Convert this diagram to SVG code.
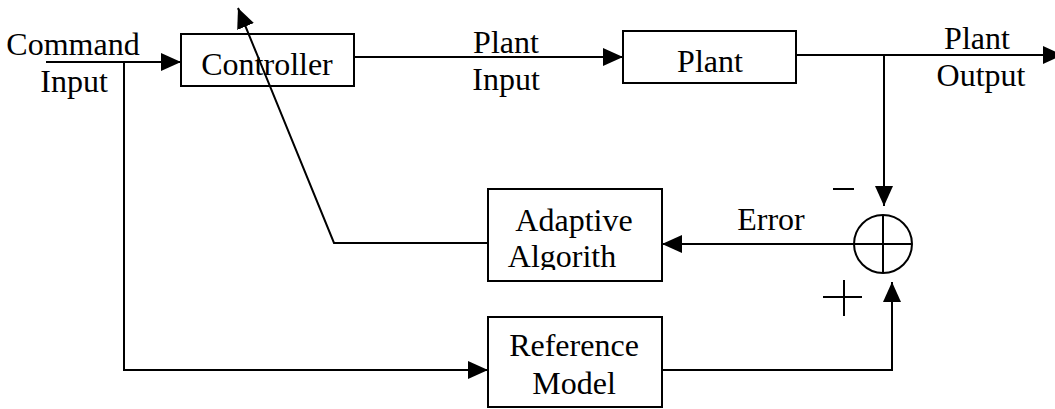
<svg xmlns="http://www.w3.org/2000/svg" width="1055" height="409" viewBox="0 0 1055 409">
<style>
.box{fill:none;stroke:#000;stroke-width:2}
.ln{fill:none;stroke:#000;stroke-width:2}
text{font-family:"Liberation Serif","Times New Roman",serif;font-size:32px;fill:#000;text-anchor:middle}
</style>
<defs>
<marker id="ah" markerUnits="userSpaceOnUse" markerWidth="21" markerHeight="18" refX="20" refY="9" orient="auto" viewBox="0 0 21 18">
<path d="M0,0 L20,9 L0,18 z" fill="#000"/>
</marker>
<clipPath id="algclip"><rect x="480" y="180" width="190" height="90"/></clipPath>
</defs>
<rect width="1055" height="409" fill="#fff"/>
<g id="connectors">
<path class="ln" d="M46,62 H181" marker-end="url(#ah)"/>
<path class="ln" d="M124,62 V370 H488" marker-end="url(#ah)"/>
<path class="ln" d="M354,57 H623" marker-end="url(#ah)"/>
<path class="ln" d="M796,55 H1063" marker-end="url(#ah)"/>
<path class="ln" d="M884,55 V206" marker-end="url(#ah)"/>
<path class="ln" d="M854,244 H662" marker-end="url(#ah)"/>
<path class="ln" d="M488,243 H334 L238,8" marker-end="url(#ah)"/>
<path class="ln" d="M662,370 H892 V282" marker-end="url(#ah)"/>
</g>
<g id="labels">
<text x="73" y="55">Command</text>
<text x="74" y="92">Input</text>
<text x="506" y="53">Plant</text>
<text x="506" y="90">Input</text>
<text x="977" y="49">Plant</text>
<text x="981" y="86">Output</text>
<text x="771" y="230">Error</text>
<path class="ln" d="M833,189 H854"/>
<path class="ln" d="M823,297 H862 M844,280 V316"/>
</g>
<g id="controller">
<rect class="box" x="181" y="34" width="173" height="52"/>
<text x="267" y="75">Controller</text>
</g>
<g id="plant">
<rect class="box" x="623" y="31" width="173" height="52"/>
<text x="710" y="72">Plant</text>
</g>
<g id="adaptive">
<rect class="box" x="488" y="189" width="174" height="92"/>
<text x="574" y="231">Adaptive</text>
<text x="562" y="267" clip-path="url(#algclip)">Algorith</text>
</g>
<g id="reference">
<rect class="box" x="488" y="317" width="174" height="90"/>
<text x="574" y="356">Reference</text>
<text x="574" y="394">Model</text>
</g>
<g id="sum">
<circle class="box" cx="883" cy="244" r="29"/>
<path class="ln" d="M854,244 H912 M883,215 V273"/>
</g>
</svg>
